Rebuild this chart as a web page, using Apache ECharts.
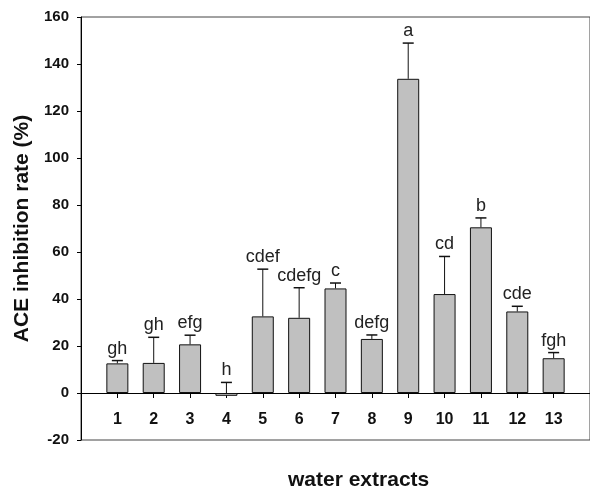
<!DOCTYPE html>
<html><head><meta charset="utf-8">
<script src="https://cdn.jsdelivr.net/npm/echarts@6/dist/echarts.min.js"></script>
<style>html,body{margin:0;padding:0;background:#fff}#c{width:590px;height:489px}</style>
</head><body><div id="c"></div>
<script>
var categories = [1,2,3,4,5,6,7,8,9,10,11,12,13];
var means = [12.6,12.8,20.7,-1.2,32.6,32.0,44.5,23.0,133.7,42.1,70.5,34.7,14.8];
var errTops = [13.8,23.7,24.6,4.5,52.7,44.8,46.8,24.7,148.9,58.1,74.5,36.9,17.2];
var letters = ['gh','gh','efg','h','cdef','cdefg','c','defg','a','cd','b','cde','fgh'];
var yTicks = [-20,0,20,40,60,80,100,120,140,160];

var barData = categories.map(function(c,i){return [c, means[i]];});
var errData = categories.map(function(c,i){return [c, Math.max(means[i],0), errTops[i], letters[i]];});

var chart = echarts.init(document.getElementById('c'), null, {renderer:'canvas'});
chart.setOption({
  animation:false,
  grid:{left:81, top:17, right:-8, bottom:49, show:true, borderColor:'#444', borderWidth:1, backgroundColor:'transparent'},
  title:{text:'water extracts', left:283, top:465, textStyle:{fontFamily:'Arial', fontWeight:'bold', fontSize:21, color:'#111'}},
  xAxis:{type:'value', min:0, max:14, interval:1,
    axisLine:{onZero:true, lineStyle:{color:'#000', width:1}},
    axisTick:{show:true, length:5, customValues:categories, lineStyle:{color:'#000'}},
    axisLabel:{show:false},
    splitLine:{show:false}},
  yAxis:{type:'value', min:-20, max:160, interval:20,
    name:'ACE inhibition rate (%)', nameLocation:'middle', nameGap:46,
    nameTextStyle:{fontFamily:'Arial', fontWeight:'bold', fontSize:21, color:'#111'},
    axisLine:{show:true, lineStyle:{color:'#000'}},
    axisTick:{show:true, length:4, lineStyle:{color:'#000'}},
    axisLabel:{margin:12, fontFamily:'Arial', fontWeight:'bold', fontSize:15, color:'#111'},
    splitLine:{show:false}},
  series:[
    {type:'bar', data:barData, barWidth:22,
     itemStyle:{color:'#c0c0c0', borderColor:'#111', borderWidth:1}},
    {type:'custom', data:errData, z:5,
     renderItem:function(params, api){
       var x = api.value(0);
       var p0 = api.coord([x, api.value(1)]);
       var p1 = api.coord([x, api.value(2)]);
       var pz = api.coord([x, 0]);
       var half = 5.5;
       return {type:'group', children:[
         {type:'line', shape:{x1:p0[0], y1:p0[1], x2:p1[0], y2:p1[1]}, style:{stroke:'#111', lineWidth:1}},
         {type:'line', shape:{x1:p1[0]-half, y1:p1[1], x2:p1[0]+half, y2:p1[1]}, style:{stroke:'#111', lineWidth:1.5}},
         {type:'text', x:p1[0], y:p1[1]-3, style:{text:api.value(3), textAlign:'center', textVerticalAlign:'bottom',
           font:'18px Arial', fill:'#222'}},
         {type:'text', x:pz[0], y:pz[1]+27, style:{text:String(x), textAlign:'center', textVerticalAlign:'middle',
           font:'bold 16px Arial', fill:'#111'}}
       ]};
     }}
  ]
});
</script></body></html>
